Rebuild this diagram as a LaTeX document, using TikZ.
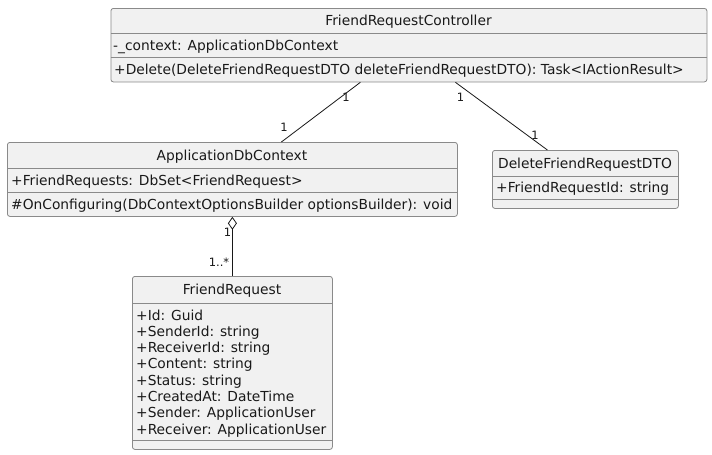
\documentclass[tikz,border=0pt]{standalone}
\usepackage{fontspec}
\setmainfont{DejaVu Sans}
\usetikzlibrary{arrows.meta,calc}
\definecolor{boxfill}{HTML}{F1F1F1}
\definecolor{boxline}{HTML}{8A8A8A}
\definecolor{linkcol}{HTML}{181818}
\tikzset{
  classbox/.style={draw=boxline, fill=boxfill, line width=0.8pt, rounded corners=2.5pt, inner sep=0pt, anchor=north west},
  sepline/.style={draw=boxline, line width=0.8pt},
  ctitle/.style={font=\fontsize{13.8}{16.3}\selectfont, inner sep=0pt, anchor=base, text=black!90},
  cmember/.style={font=\fontsize{13.8}{16.3}\selectfont, inner sep=0pt, anchor=base west, text=black!90},
  mult/.style={font=\fontsize{11.5}{13}\selectfont, inner sep=0pt, text=black!90},
  link/.style={draw=linkcol, line width=0.8pt}
}
\begin{document}
\begin{tikzpicture}[x=1pt,y=-1pt]
\useasboundingbox (0,0) rectangle (712,455);
\fill[white] (0,0) rectangle (712,455);

% FriendRequestController
\node[classbox, minimum width=596pt, minimum height=73.5pt] (frc) at (110.5,8) {};
\draw[sepline] (110.5,33) -- (706.5,33);
\draw[sepline] (110.5,57) -- (706.5,57);
\node[ctitle] (frct) at (408.5,25.5) {FriendRequestController};
\node[cmember] (frca) at (113,50) {-\_context: ApplicationDbContext};
\node[cmember] (frcm) at (114,74.5) {+Delete(DeleteFriendRequestDTO deleteFriendRequestDTO): Task<IActionResult>};

% ApplicationDbContext
\node[classbox, minimum width=450pt, minimum height=74pt] (adc) at (7,142) {};
\draw[sepline] (7,168) -- (457,168);
\draw[sepline] (7,192) -- (457,192);
\node[ctitle] (adct) at (232,160) {ApplicationDbContext};
\node[cmember] (adca) at (11,185) {+FriendRequests: DbSet<FriendRequest>};
\node[cmember] (adcm) at (11,209) {\#OnConfiguring(DbContextOptionsBuilder optionsBuilder): void};

% DeleteFriendRequestDTO
\node[classbox, minimum width=186pt, minimum height=58pt] (dto) at (492,150) {};
\draw[sepline] (492,176) -- (678,176);
\draw[sepline] (492,199) -- (678,199);
\node[ctitle] (dtot) at (585,168) {DeleteFriendRequestDTO};
\node[cmember] (dtoa) at (496,192.5) {+FriendRequestId: string};

% FriendRequest
\node[classbox, minimum width=200pt, minimum height=173pt] (fr) at (132,276) {};
\draw[sepline] (132,303) -- (332,303);
\draw[sepline] (132,440) -- (332,440);
\node[ctitle] (frt) at (232,294.5) {FriendRequest};
\foreach \txt [count=\i] in {{+Id: Guid},{+SenderId: string},{+ReceiverId: string},{+Content: string},{+Status: string},{+CreatedAt: DateTime},{+Sender: ApplicationUser},{+Receiver: ApplicationUser}}{
  \node[cmember] (fr\i) at (136,{320+16.3*(\i-1)}) {\txt};
}

% links
\draw[link] ([xshift=-48.5pt]frc.south) -- ([xshift=49pt]adc.north);
\draw[link] ([xshift=46.5pt]frc.south) -- ([xshift=-38pt]dto.north);
\draw[link, {Diamond[open, length=13pt, width=9pt, fill=white]}-] (adc.south) -- (fr.north);

% multiplicities
\node[mult] (m1) at (346,97) {1};
\node[mult] (m2) at (284,127) {1};
\node[mult] (m3) at (460.5,97) {1};
\node[mult] (m4) at (535,135) {1};
\node[mult] (m5) at (227.5,232.5) {1};
\node[mult] (m6) at (219,262) {1..*};
\end{tikzpicture}
\end{document}
